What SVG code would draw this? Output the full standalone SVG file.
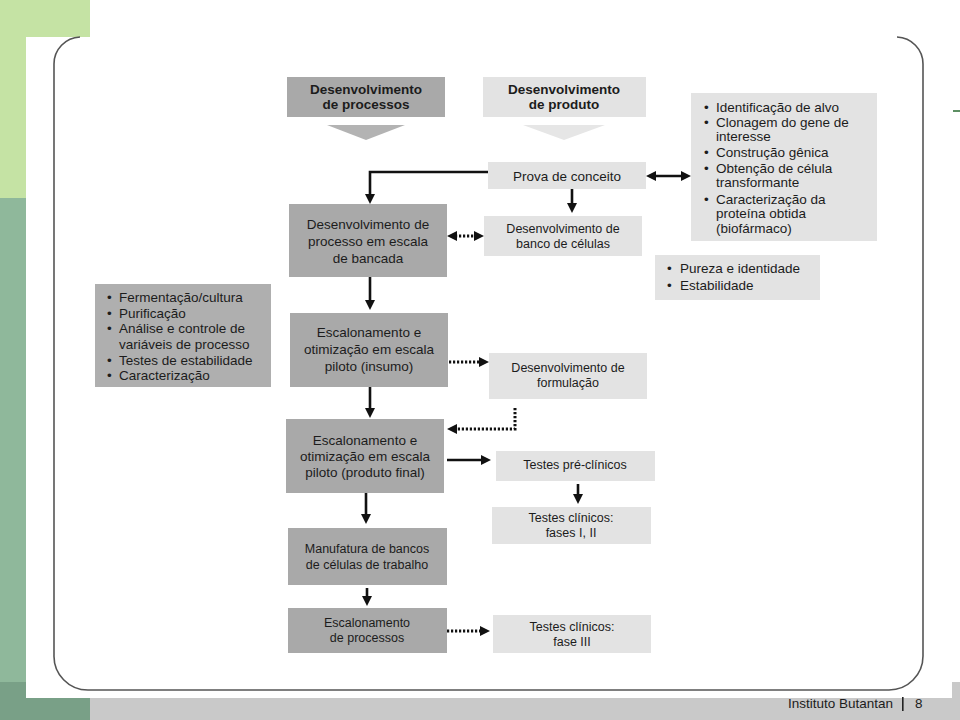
<svg xmlns="http://www.w3.org/2000/svg" width="960" height="720" viewBox="0 0 960 720">
<style>
text{font-family:"Liberation Sans",Arial,sans-serif;fill:#1c1c1c}
.dk{fill:#a9a9a9}
.lt{fill:#e3e3e3}
.t135{font-size:13.5px}
.t125{font-size:12.5px}
.b{font-weight:bold;font-size:13.5px}
.c{text-anchor:middle}
.ln{fill:none;stroke:#111;stroke-width:2.6}
.dt{fill:none;stroke:#111;stroke-width:3;stroke-dasharray:2.2 1.8}
</style>
<defs>
<marker id="ah" markerUnits="userSpaceOnUse" markerWidth="11" markerHeight="11" refX="6" refY="5" orient="auto-start-reverse">
<path d="M0,0 L10,5 L0,10 z" fill="#111"/>
</marker>
</defs>
<g id="background">
<rect x="0" y="0" width="960" height="720" fill="#fff"/>
<rect x="0" y="0" width="90" height="37" fill="#c5e3a4"/>
<rect x="0" y="37" width="26" height="161" fill="#c5e3a4"/>
<rect x="0" y="198" width="26" height="484" fill="#8fb89b"/>
<rect x="0" y="682" width="26" height="38" fill="#79a087"/>
<rect x="0" y="698" width="90" height="22" fill="#79a087"/>
<rect x="90" y="698" width="870" height="22" fill="#c9c9c9"/>
<rect x="952" y="682" width="8" height="16" fill="#c9c9c9"/>
<rect x="953" y="110" width="7" height="2" fill="#5d8f63"/>
<path d="M80,37 A27,27 0 0 0 54,64 L54,655 A34,34 0 0 0 88,690 L889,690 A34,34 0 0 0 923,656 L923,64 A27,27 0 0 0 897,37" fill="none" stroke="#555" stroke-width="1.6"/>
<text x="788" y="708" style="font-size:13.5px">Instituto Butantan</text>
<rect x="902" y="697" width="1.6" height="14" fill="#222"/>
<text x="915" y="708" style="font-size:13.5px">8</text>
</g>
<g id="hdr-processos">
<rect class="dk" x="287" y="77" width="158" height="40"/>
<polygon points="327,125 405,125 366,140" fill="#b3b3b3"/>
<text class="b c" x="366" y="94">Desenvolvimento</text>
<text class="b c" x="366" y="109">de processos</text>
</g>
<g id="hdr-produto">
<rect class="lt" x="483" y="77" width="163" height="40"/>
<polygon points="523,125 605,125 564,140" fill="#e6e6e6"/>
<text class="b c" x="564" y="94">Desenvolvimento</text>
<text class="b c" x="564" y="109">de produto</text>
</g>
<g id="prova">
<rect class="lt" x="488" y="162" width="158" height="27"/>
<text class="t135 c" x="567" y="181">Prova de conceito</text>
</g>
<g id="lista-produto">
<rect class="lt" x="691" y="93" width="186" height="148"/>
<g class="t135">
<text x="704" y="112">•</text><text x="716" y="112">Identificação de alvo</text>
<text x="704" y="127">•</text><text x="716" y="127">Clonagem do gene de</text>
<text x="716" y="141">interesse</text>
<text x="704" y="157">•</text><text x="716" y="157">Construção gênica</text>
<text x="704" y="173">•</text><text x="716" y="173">Obtenção de célula</text>
<text x="716" y="187">transformante</text>
<text x="704" y="204">•</text><text x="716" y="204">Caracterização da</text>
<text x="716" y="218">proteína obtida</text>
<text x="716" y="233">(biofármaco)</text>
</g>
</g>
<g id="bancada">
<rect class="dk" x="289" y="204" width="158" height="73"/>
<text class="t135 c" x="368" y="229">Desenvolvimento de</text>
<text class="t135 c" x="368" y="246">processo em escala</text>
<text class="t135 c" x="368" y="263">de bancada</text>
</g>
<g id="banco">
<rect class="lt" x="484" y="216" width="158" height="40"/>
<text class="t125 c" x="563" y="233">Desenvolvimento de</text>
<text class="t125 c" x="563" y="248">banco de células</text>
</g>
<g id="pureza">
<rect class="lt" x="655" y="255" width="165" height="45"/>
<g class="t135">
<text x="667" y="273">•</text><text x="680" y="273">Pureza e identidade</text>
<text x="667" y="290">•</text><text x="680" y="290">Estabilidade</text>
</g>
</g>
<g id="lista-processo">
<rect x="95" y="284" width="176" height="103" fill="#afafaf"/>
<g class="t135">
<text x="107" y="302">•</text><text x="119" y="302">Fermentação/cultura</text>
<text x="107" y="318">•</text><text x="119" y="318">Purificação</text>
<text x="107" y="333">•</text><text x="119" y="333">Análise e controle de</text>
<text x="119" y="349">variáveis de processo</text>
<text x="107" y="365">•</text><text x="119" y="365">Testes de estabilidade</text>
<text x="107" y="380">•</text><text x="119" y="380">Caracterização</text>
</g>
</g>
<g id="insumo">
<rect class="dk" x="290" y="313" width="158" height="74"/>
<text class="t135 c" x="369" y="337">Escalonamento e</text>
<text class="t135 c" x="369" y="354">otimização em escala</text>
<text class="t135 c" x="369" y="371">piloto (insumo)</text>
</g>
<g id="formulacao">
<rect class="lt" x="489" y="353" width="158" height="46"/>
<text class="t125 c" x="568" y="372">Desenvolvimento de</text>
<text class="t125 c" x="568" y="387">formulação</text>
</g>
<g id="produto-final">
<rect class="dk" x="286" y="419" width="158" height="74"/>
<text class="t135 c" x="365" y="445">Escalonamento e</text>
<text class="t135 c" x="365" y="461">otimização em escala</text>
<text class="t135 c" x="365" y="477">piloto (produto final)</text>
</g>
<g id="pre-clinicos">
<rect class="lt" x="496" y="451" width="159" height="30"/>
<text class="t125 c" x="575" y="469">Testes pré-clínicos</text>
</g>
<g id="clinicos-12">
<rect class="lt" x="492" y="507" width="159" height="37"/>
<text class="t125 c" x="571" y="522">Testes clínicos:</text>
<text class="t125 c" x="571" y="537">fases I, II</text>
</g>
<g id="manufatura">
<rect class="dk" x="288" y="528" width="159" height="57"/>
<text class="t125 c" x="367" y="553">Manufatura de bancos</text>
<text class="t125 c" x="367" y="569">de células de trabalho</text>
</g>
<g id="escalonamento-processos">
<rect class="dk" x="288" y="608" width="159" height="45"/>
<text class="t125 c" x="367" y="627">Escalonamento</text>
<text class="t125 c" x="367" y="642">de processos</text>
</g>
<g id="clinicos-3">
<rect class="lt" x="493" y="615" width="158" height="38"/>
<text class="t125 c" x="572" y="631">Testes clínicos:</text>
<text class="t125 c" x="572" y="646">fase III</text>
</g>
<g id="connectors">
<path class="ln" d="M488,172 H370 V200" marker-end="url(#ah)"/>
<path class="ln" d="M572,189 V209" marker-end="url(#ah)"/>
<path class="ln" d="M650,176 H687" marker-start="url(#ah)" marker-end="url(#ah)"/>
<path class="dt" d="M451,236 H480" marker-start="url(#ah)" marker-end="url(#ah)"/>
<path class="ln" d="M370,277 V306" marker-end="url(#ah)"/>
<path class="ln" d="M370,387 V414" marker-end="url(#ah)"/>
<path class="dt" d="M449,362 H485" marker-end="url(#ah)"/>
<path class="dt" d="M515,408 V429 H451" marker-end="url(#ah)"/>
<path class="ln" d="M447,460 H487" marker-end="url(#ah)"/>
<path class="ln" d="M578,484 V500" marker-end="url(#ah)"/>
<path class="ln" d="M366,493 V520" marker-end="url(#ah)"/>
<path class="ln" d="M367,588 V602" marker-end="url(#ah)"/>
<path class="dt" d="M447,631 H486" marker-end="url(#ah)"/>
</g>
</svg>
